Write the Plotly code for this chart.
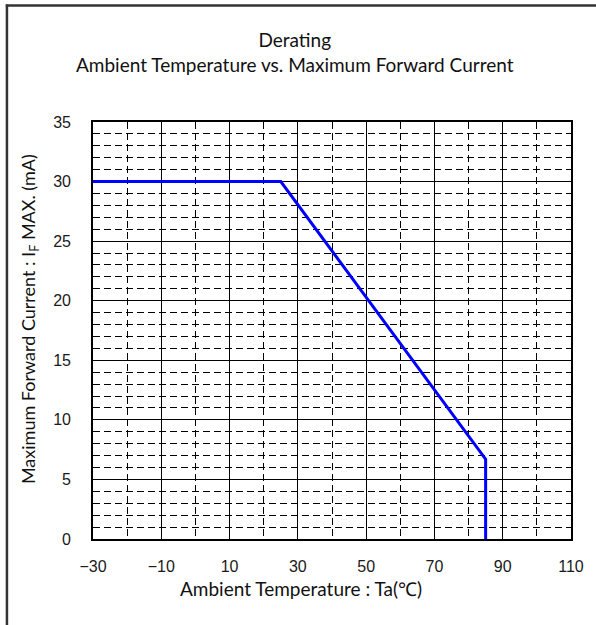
import plotly.graph_objects as go

# Data
temperature = [-30, 25, 85, 85]
max_current = [30, 30, 6.7, 0]

x_tick0, x_dtick, x_minor = -30, 20, 10
y_tick0, y_dtick, y_minor = 0, 5, 1

title_text = "Derating<br>Ambient Temperature vs. Maximum Forward Current"
x_title = "Ambient Temperature : Ta(℃)"
y_title = "Maximum Forward Current : I<sub>F</sub> MAX. (mA)"

W, H = 596, 625
L, R, T, B = 93, 579, 122, 539  # plot area in px

def px(xp):
    return (xp - L) / (R - L)

def py(yp):
    return (B - yp) / (B - T)

fig = go.Figure()
fig.add_trace(go.Scatter(
    x=temperature, y=max_current, mode="lines",
    line=dict(color="#0000FF", width=3), showlegend=False, hoverinfo="skip",
))

tick_font = dict(family="Liberation Sans, Arial, sans-serif", size=16, color="#1a1a1a")
text_font = "Lato, 'Noto Sans', sans-serif"

fig.update_xaxes(
    range=[-30, 110], tickmode="linear", tick0=x_tick0, dtick=x_dtick,
    tickfont=tick_font,
    showgrid=True, gridcolor="black", gridwidth=1.4,
    showline=True, linecolor="black", linewidth=1.6, mirror=True,
    zeroline=False, ticks="", ticklabelstandoff=12,
    minor=dict(dtick=x_minor, tick0=x_tick0, showgrid=True, gridcolor="black",
               gridwidth=1, griddash="7px,4px"),
)
fig.update_yaxes(
    range=[0, 35], tickmode="linear", tick0=y_tick0, dtick=y_dtick,
    tickfont=tick_font,
    showgrid=True, gridcolor="black", gridwidth=1.4,
    showline=True, linecolor="black", linewidth=1.6, mirror=True,
    zeroline=False, ticks="", ticklabelstandoff=17,
    minor=dict(dtick=y_minor, tick0=y_tick0, showgrid=True, gridcolor="black",
               gridwidth=1, griddash="7px,4px"),
)

annotations = [
    dict(text=title_text, x=px(298), y=py(52), xref="paper", yref="paper",
         xanchor="center", yanchor="middle", showarrow=False,
         font=dict(family=text_font, size=19, color="#111")),
    dict(text=x_title, x=px(304), y=py(588), xref="paper", yref="paper",
         xanchor="center", yanchor="middle", showarrow=False,
         font=dict(family=text_font, size=19, color="#111")),
    dict(text=y_title, x=px(28), y=py(319), xref="paper", yref="paper",
         xanchor="center", yanchor="middle", showarrow=False, textangle=-90,
         font=dict(family=text_font, size=18, color="#111")),
]

shapes = [
    dict(type="line", xref="paper", yref="paper", x0=px(5.5), x1=px(5.5),
         y0=py(4.5), y1=py(640), line=dict(color="#333", width=2.5)),
    dict(type="line", xref="paper", yref="paper", x0=px(4.3), x1=px(620),
         y0=py(5.5), y1=py(5.5), line=dict(color="#333", width=2.5)),
]

fig.update_layout(
    width=W, height=H,
    margin=dict(l=L, r=W - R, t=T, b=H - B),
    plot_bgcolor="white", paper_bgcolor="white",
    annotations=annotations, shapes=shapes,
)

fig.write_html(
    "out.html",
    config={"displayModeBar": False},
    post_script="document.body.style.margin='0';document.body.style.padding='0';",
)
